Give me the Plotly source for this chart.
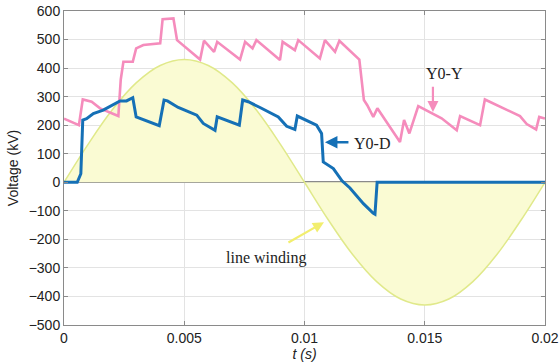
import plotly.graph_objects as go

# Line winding (sinusoid)
t_line = [0, 0.001, 0.002, 0.003, 0.004, 0.005, 0.006, 0.007, 0.008, 0.009, 0.010,
          0.011, 0.012, 0.013, 0.014, 0.015, 0.016, 0.017, 0.018, 0.019, 0.020]
v_line = [0, 133, 253, 348, 409, 430, 409, 348, 253, 133, 0,
          -133, -253, -348, -409, -430, -409, -348, -253, -133, 0]

# Y0-Y (pink)
t_yy = [0, 0.00062, 0.00078, 0.00115, 0.0015, 0.00226, 0.00236, 0.00247, 0.00286, 0.0030,
        0.0033, 0.0040, 0.0041, 0.00455, 0.0047, 0.00566, 0.00582, 0.00624, 0.00637, 0.00732,
        0.00753, 0.00784, 0.0080, 0.00898, 0.00909, 0.0096, 0.00974, 0.01064, 0.01085, 0.01127,
        0.01145, 0.01228, 0.01247, 0.01261, 0.01286, 0.01303, 0.01397, 0.01414, 0.01436, 0.01473,
        0.0157, 0.01633, 0.01647, 0.0173, 0.0175, 0.01813, 0.01896, 0.01924, 0.01963, 0.01976, 0.020]
v_yy = [223, 200, 290, 282, 259, 232, 360, 422, 422, 469,
        481, 487, 571, 574, 498, 430, 496, 457, 492, 430,
        492, 469, 498, 428, 492, 463, 498, 434, 498, 457,
        496, 430, 288, 270, 229, 259, 141, 218, 171, 267,
        224, 182, 232, 200, 290, 264, 232, 204, 185, 229, 223]

# Y0-D (blue)
t_yd = [0, 0.00055, 0.0007, 0.00078, 0.00094, 0.00122, 0.00163, 0.00233, 0.0026, 0.00286,
        0.0030, 0.00396, 0.00416, 0.0043, 0.00475, 0.00552, 0.00579, 0.00628, 0.00637, 0.00729,
        0.00743, 0.00766, 0.00815, 0.00891, 0.00926, 0.0096, 0.0097, 0.0105, 0.01071, 0.01078,
        0.0112, 0.01156, 0.01189, 0.01245, 0.01285, 0.01293, 0.01302, 0.0131, 0.020]
v_yd = [0, 0, 30, 218, 223, 241, 253, 285, 285, 296,
        229, 198, 288, 285, 262, 235, 206, 182, 229, 200,
        288, 282, 262, 229, 196, 185, 232, 200, 171, 71,
        48, 5, -20, -75, -108, -112, 0, 0, 0]

x_ticks = [0, 0.005, 0.01, 0.015, 0.02]
x_ticklabels = ["0", "0.005", "0.01", "0.015", "0.02"]
y_ticks = [-500, -400, -300, -200, -100, 0, 100, 200, 300, 400, 500, 600]

fig = go.Figure()
fig.add_trace(go.Scatter(x=t_line, y=v_line, mode="lines", line=dict(color="#e0e98a", width=1.5, shape="spline"),
                         fill="tozeroy", fillcolor="#fafbd3", showlegend=False, hoverinfo="skip"))
fig.add_trace(go.Scatter(x=t_yy, y=v_yy, mode="lines", line=dict(color="#f58cbc", width=2.6),
                         showlegend=False))
fig.add_trace(go.Scatter(x=t_yd, y=v_yd, mode="lines", line=dict(color="#1570b6", width=3),
                         showlegend=False))

serif = "Liberation Serif"
ann = [
    dict(x=0.01085, y=140, ax=0.01189, ay=140, xref="x", yref="y", axref="x", ayref="y", text="",
         showarrow=True, arrowhead=2, arrowsize=1, arrowwidth=2.5, arrowcolor="#1570b6", standoff=0),
    dict(x=0.01196, y=136, xref="x", yref="y", text="Y0-D", showarrow=False, xanchor="left",
         font=dict(family=serif, size=16, color="#222")),
    dict(x=0.01534, y=246, ax=0.01534, ay=340, xref="x", yref="y", axref="x", ayref="y", text="",
         showarrow=True, arrowhead=2, arrowsize=1, arrowwidth=2.2, arrowcolor="#f58cbc", standoff=0),
    dict(x=0.01584, y=382, xref="x", yref="y", text="Y0-Y", showarrow=False,
         font=dict(family=serif, size=16, color="#222")),
    dict(x=0.01081, y=-140, ax=0.00927, ay=-214, xref="x", yref="y", axref="x", ayref="y", text="",
         showarrow=True, arrowhead=2, arrowsize=1, arrowwidth=2.2, arrowcolor="#f2ee6e", standoff=0),
    dict(x=0.0084, y=-267, xref="x", yref="y", text="line winding", showarrow=False,
         font=dict(family=serif, size=16, color="#222")),
]

fig.update_layout(
    width=559, height=364,
    margin=dict(l=64, r=14, t=11, b=39),
    paper_bgcolor="white", plot_bgcolor="white",
    font=dict(family="Liberation Sans", size=14, color="#222"),
    annotations=ann,
)
fig.update_xaxes(range=[0, 0.02], tickvals=x_ticks, ticktext=x_ticklabels, automargin=False,
                 showgrid=True, gridcolor="#e3e3e3", gridwidth=1,
                 showline=True, linecolor="#8a8a8a", linewidth=1, mirror="ticks",
                 ticks="inside", ticklen=4, tickcolor="#8a8a8a", zeroline=False,
                 title=dict(text="<i>t (s)</i>", standoff=1, font=dict(size=14)))
fig.update_yaxes(range=[-500, 600], tickvals=y_ticks, automargin=False,
                 showgrid=True, gridcolor="#e3e3e3", gridwidth=1,
                 showline=True, linecolor="#8a8a8a", linewidth=1, mirror="ticks",
                 ticks="inside", ticklen=4, tickcolor="#8a8a8a",
                 zeroline=True, zerolinecolor="#8a8a8a", zerolinewidth=2,
                 title=dict(text="Voltage (kV)", standoff=6, font=dict(size=14)))

fig.write_html("out.html", config={"displayModeBar": False},
               post_script="document.body.style.margin='0';")
